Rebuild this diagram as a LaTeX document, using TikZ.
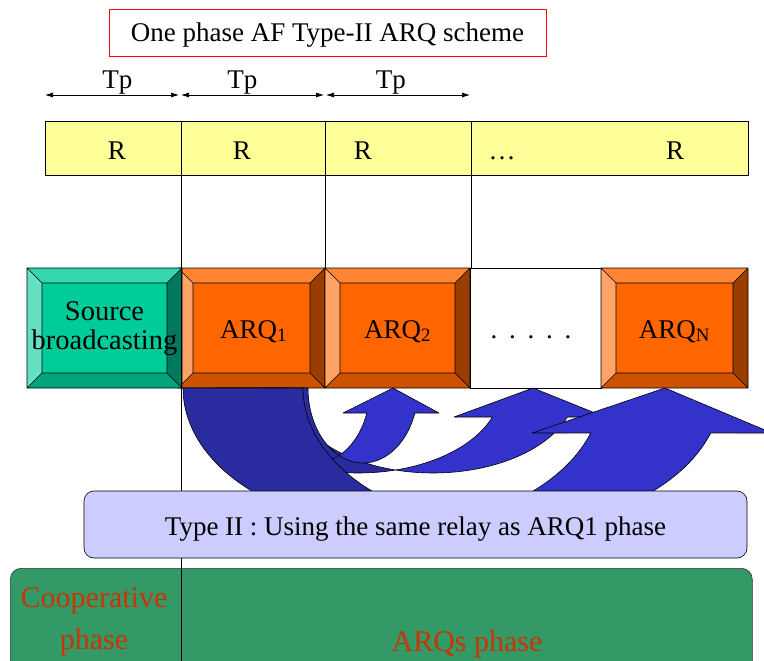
\documentclass[tikz,border=0pt]{standalone}
\usepackage{fontspec}
\setmainfont{Liberation Serif}
\usetikzlibrary{arrows.meta}

\definecolor{titlered}{HTML}{FF0000}
\definecolor{baryellow}{HTML}{FFFF99}
\definecolor{tealface}{HTML}{00CC99}
\definecolor{tealtop}{HTML}{33D6AD}
\definecolor{tealleft}{HTML}{66E0C2}
\definecolor{tealright}{HTML}{007A5C}
\definecolor{tealbottom}{HTML}{00A37A}
\definecolor{orngface}{HTML}{FF6600}
\definecolor{orngtop}{HTML}{FF8533}
\definecolor{orngleft}{HTML}{FFA366}
\definecolor{orngright}{HTML}{993D00}
\definecolor{orngbottom}{HTML}{CC5200}
\definecolor{backblue}{HTML}{2B2BA0}
\definecolor{frontblue}{HTML}{3333CC}
\definecolor{typefill}{HTML}{CCCCFF}
\definecolor{phasegreen}{HTML}{339966}
\definecolor{phasetext}{HTML}{CC3300}

% raised box with four bevelled edges: x1, y1, x2, y2, palette
\newcommand{\bevelbox}[5]{%
  \fill[#5face] (#1,#2) rectangle (#3,#4);
  \fill[#5top] (#1,#2) -- (#3,#2) -- ({#3-15},{#2+15}) -- ({#1+15},{#2+15}) -- cycle;
  \fill[#5bottom] (#1,#4) -- (#3,#4) -- ({#3-15},{#4-15}) -- ({#1+15},{#4-15}) -- cycle;
  \fill[#5left] (#1,#2) -- ({#1+15},{#2+15}) -- ({#1+15},{#4-15}) -- (#1,#4) -- cycle;
  \fill[#5right] (#3,#2) -- ({#3-15},{#2+15}) -- ({#3-15},{#4-15}) -- (#3,#4) -- cycle;
  \draw[bevelline] (#1,#2) rectangle (#3,#4) ({#1+15},{#2+15}) rectangle ({#3-15},{#4-15})
    (#1,#2) -- ({#1+15},{#2+15}) (#3,#2) -- ({#3-15},{#2+15})
    (#1,#4) -- ({#1+15},{#4-15}) (#3,#4) -- ({#3-15},{#4-15});
}

% curved up arrow made of two equal half ellipses shifted by the ribbon width:
% cx, a, b, width, head base y, head left x, apex x, head right x
\newcommand{\ribbonarrow}[8]{%
  \pgfmathsetmacro{\rcx}{#1}%
  \pgfmathsetmacro{\ra}{#2}%
  \pgfmathsetmacro{\rb}{#3}%
  \pgfmathsetmacro{\rth}{#4}%
  \pgfmathsetmacro{\rtP}{acos(\rth/(2*\ra))}%
  \pgfmathsetmacro{\rtQ}{180-\rtP}%
  \pgfmathsetmacro{\rtH}{asin((#5-388)/\rb)}%
  \filldraw[ribbonback]
    plot[domain=180:\rtP,samples=60,variable=\t] ({\rcx+\ra*cos(\t)},{388+\rb*sin(\t)})
    -- plot[domain=\rtQ:180,samples=60,variable=\t] ({\rcx+\rth+\ra*cos(\t)},{388+\rb*sin(\t)})
    -- cycle;
  \filldraw[ribbonfront] (#7,388) -- (#8,#5)
    -- plot[domain=\rtH:\rtQ,samples=60,variable=\t] ({\rcx+\rth+\ra*cos(\t)},{388+\rb*sin(\t)})
    -- plot[domain=\rtP:\rtH,samples=60,variable=\t] ({\rcx+\ra*cos(\t)},{388+\rb*sin(\t)})
    -- (#6,#5) -- cycle;
}

\tikzset{
  txt/.style={font=\fontsize{27}{29}\selectfont, inner sep=0pt},
  titlebox/.style={txt, draw=titlered, line width=0.8pt, fill=white,
    minimum width=437pt, minimum height=47pt, text height=19pt, text depth=0pt},
  tparrow/.style={line width=0.7pt, {Latex[length=8pt,width=5pt]}-{Latex[length=8pt,width=5pt]}},
  barcell/.style={draw=black, line width=0.6pt, fill=baryellow},
  bevelline/.style={draw=black, line width=0.6pt},
  thinline/.style={draw=black, line width=0.7pt},
  ribbonback/.style={fill=backblue, draw=black, line width=0.6pt, line join=round},
  ribbonfront/.style={fill=frontblue, draw=black, line width=0.6pt, line join=round},
  typebox/.style={txt, draw=black, line width=0.6pt, fill=typefill, rounded corners=10pt,
    minimum width=663pt, minimum height=67pt, text height=21pt, text depth=0pt},
  phasebox/.style={draw=black!80, line width=0.6pt, fill=phasegreen, rounded corners=11pt},
  phaselbl/.style={font=\fontsize{30}{42}\selectfont, text=phasetext, inner sep=0pt, align=center},
}

\begin{document}
\begin{tikzpicture}[x=1pt,y=-1pt]
\useasboundingbox (0,0) rectangle (764,661);

% title
\node[titlebox] (title) at (327.5,32.5) {One phase AF Type-II ARQ scheme};

% relay slots of length Tp
\coordinate (tpa0) at (45,95);
\coordinate (tpa1) at (179,95);
\coordinate (tpb0) at (181,95);
\coordinate (tpb1) at (324,95);
\coordinate (tpc0) at (326,95);
\coordinate (tpc1) at (470,95);
\draw[tparrow] (tpa0) -- node[txt, pos=0.54, anchor=south] (tp1) {Tp} (tpa1);
\draw[tparrow] (tpb0) -- node[txt, pos=0.43, anchor=south] (tp2) {Tp} (tpb1);
\draw[tparrow] (tpc0) -- node[txt, pos=0.45, anchor=south] (tp3) {Tp} (tpc1);

% relay bar
\draw[barcell] (45,121) rectangle (748,175);
\draw[thinline] (325,121) -- (325,268) (471,121) -- (471,268);
\node[txt, anchor=base] (r1) at (117,160) {R};
\node[txt, anchor=base] (r2) at (242,160) {R};
\node[txt, anchor=base] (r3) at (363,160) {R};
\node[txt, anchor=base] (rdots) at (502,160) {\dots};
\node[txt, anchor=base] (r4) at (675,160) {R};

% transmission phases
\bevelbox{178}{268}{325}{388}{orng}
\bevelbox{27}{268}{182}{388}{teal}
\bevelbox{325}{268}{470}{388}{orng}
\draw[thinline, fill=white] (470,268) rectangle (601,388);
\bevelbox{601}{268}{748}{388}{orng}

\node[font=\fontsize{28.5}{29}\selectfont, inner sep=0pt, align=center] (src) at (104.5,329) {Source\\broadcasting};
\node[txt, anchor=base] (arq1) at (253.5,338) {ARQ\textsubscript{1}};
\node[txt, anchor=base] (arq2) at (397.5,338) {ARQ\textsubscript{2}};
\node[txt, anchor=base] (more) at (531,338) {.\hspace{11.7pt}.\hspace{11.7pt}.\hspace{11.7pt}.\hspace{11.7pt}.};
\node[txt, anchor=base] (arqn) at (674.5,338) {ARQ\textsubscript{N}};

% curved retransmission arrows
\ribbonarrow{358}{143}{85}{75}{417}{454}{533}{605}
\ribbonarrow{315}{55}{75}{48}{413}{343}{393}{439}
\ribbonarrow{392.5}{209.5}{139}{120}{433}{532}{665}{772}

% phase band at the bottom
\node[phasebox, minimum width=742pt, minimum height=120pt, anchor=north west] (phases) at (10,568) {};
\coordinate (splittop) at (181,121);
\coordinate (splitbot) at (181,661);
\draw[thinline] (splittop) -- (splitbot);
\node[phaselbl] (coop) at (94,622) {Cooperative\\phase};
\node[phaselbl, anchor=base] (arqs) at (467,651) {ARQs phase};

% relay note
\node[typebox] (note) at (415.5,524.5) {Type II : Using the same relay as ARQ1 phase};
\end{tikzpicture}
\end{document}
